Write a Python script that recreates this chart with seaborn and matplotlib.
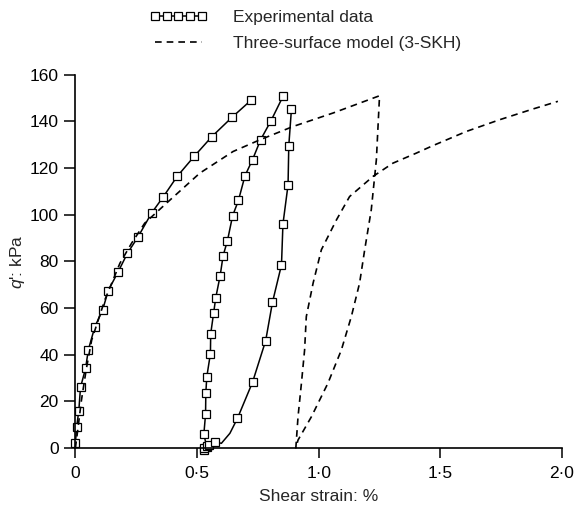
import numpy as np
import pandas as pd
import matplotlib
matplotlib.use("Agg")
import matplotlib.pyplot as plt
import seaborn as sns

# experimental curves (shear strain %, q' kPa)
exp1_x = [0.0, 0.005, 0.014, 0.021, 0.042, 0.053, 0.080, 0.112, 0.135, 0.176, 0.214,
          0.258, 0.313, 0.362, 0.418, 0.488, 0.561, 0.643, 0.721]
exp1_y = [2.0, 8.9, 16.0, 26.0, 34.2, 42.0, 52.0, 59.2, 67.5, 75.6, 83.5,
          90.6, 100.7, 107.8, 116.4, 125.0, 133.5, 141.7, 149.0]

exp2_x = [0.528, 0.539, 0.528, 0.535, 0.536, 0.540, 0.555, 0.556, 0.568, 0.577, 0.595,
          0.607, 0.625, 0.646, 0.670, 0.697, 0.728, 0.761, 0.804, 0.853]
exp2_y = [-1.0, 0.6, 6.0, 14.6, 23.5, 30.5, 40.5, 48.9, 57.8, 64.5, 73.9,
          82.4, 88.9, 99.5, 106.1, 116.7, 123.6, 132.1, 140.3, 150.7]

exp3_x = [0.527, 0.539, 0.550, 0.573, 0.600, 0.635, 0.666, 0.728, 0.782, 0.810,
          0.847, 0.853, 0.874, 0.877, 0.888]
exp3_y = [0.0, 0.7, 1.3, 2.7, 2.0, 6.3, 12.7, 28.2, 46.0, 62.5,
          78.5, 96.0, 112.8, 129.6, 145.3]
exp3_marked = [0, 1, 2, 3, 6, 7, 8, 9, 10, 11, 12, 13, 14]

# three-surface model (3-SKH): load, unload, reload
model_x = [0.0, 0.010, 0.025, 0.045, 0.067, 0.121, 0.183, 0.231, 0.285, 0.375, 0.511,
           0.648, 0.758, 0.894, 1.059, 1.250,
           1.237, 1.216, 1.189, 1.168, 1.134, 1.093, 1.038, 0.970, 0.915, 0.906,
           0.915, 0.929, 0.942, 0.949, 0.977, 1.011, 1.073, 1.127, 1.223, 1.305,
           1.401, 1.469, 1.607, 1.743, 1.880, 1.983]
model_y = [0.0, 8.0, 20.6, 34.0, 46.3, 63.5, 79.2, 87.8, 96.4, 105.0, 117.8,
           127.1, 132.1, 137.8, 143.6, 151.0,
           123.6, 102.1, 85.0, 70.7, 56.3, 42.0, 27.8, 13.4, 3.4, 0.0,
           13.4, 27.8, 42.0, 56.3, 70.7, 85.0, 97.8, 107.8, 116.4, 122.1,
           126.4, 129.6, 135.7, 140.7, 145.3, 148.6]

x_ticks = [0, 0.5, 1.0, 1.5, 2.0]
x_ticklabels = ["0", "0·5", "1·0", "1·5", "2·0"]
y_ticks = [0, 20, 40, 60, 80, 100, 120, 140, 160]

sns.set_style("ticks")
plt.rcParams["font.family"] = ["Liberation Sans", "DejaVu Sans"]
plt.rcParams["mathtext.fontset"] = "custom"
plt.rcParams["mathtext.it"] = "Liberation Sans:italic"
plt.rcParams["mathtext.rm"] = "Liberation Sans"

fs = 12.5
fig = plt.figure(figsize=(5.8, 5.12), dpi=100)
ax = fig.add_axes([0.130, 0.125, 0.839, 0.729])

mk = dict(marker="s", markersize=5.5, markerfacecolor="white", markeredgecolor="black",
          markeredgewidth=0.9, color="black", linewidth=1.1, clip_on=False)

sns.lineplot(x=exp1_x, y=exp1_y, sort=False, estimator=None, ax=ax,
             label="Experimental data", **mk)
sns.lineplot(x=exp2_x, y=exp2_y, sort=False, estimator=None, ax=ax, **mk)
sns.lineplot(x=exp3_x, y=exp3_y, sort=False, estimator=None, ax=ax,
             markevery=exp3_marked, **mk)
sns.lineplot(x=model_x, y=model_y, sort=False, estimator=None, ax=ax,
             color="black", linewidth=1.2, linestyle=(0, (4, 3)), clip_on=False,
             label="Three-surface model (3-SKH)")

handles, labels = ax.get_legend_handles_labels()
if ax.get_legend() is not None:
    ax.get_legend().remove()
fig.legend(handles, labels, loc="upper left", bbox_to_anchor=(0.243, 0.998),
           frameon=False, numpoints=5, fontsize=fs, handlelength=3.3,
           handletextpad=1.5, labelspacing=0.65, borderpad=0)

ax.set_xlim(0, 2.0)
ax.set_ylim(0, 160)
ax.set_xticks(x_ticks)
ax.set_xticklabels(x_ticklabels)
ax.set_yticks(y_ticks)
sns.despine(ax=ax)
for s in ["left", "bottom"]:
    ax.spines[s].set_linewidth(1.2)
    ax.spines[s].set_color("black")
ax.tick_params(axis="both", direction="out", width=1.1, labelsize=fs,
               colors="black")
ax.tick_params(axis="y", length=8, pad=4)
ax.tick_params(axis="x", length=7, pad=6)
ax.set_xlabel("Shear strain: %", fontsize=fs, labelpad=6)
ax.set_ylabel(r"$q$': kPa", fontsize=fs, labelpad=2)

fig.savefig("out.png", dpi=100)
